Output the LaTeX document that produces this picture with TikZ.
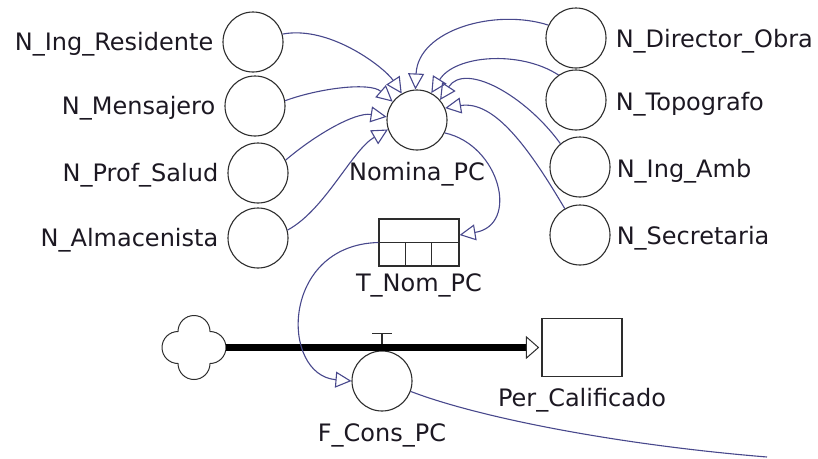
\documentclass[tikz,border=0pt]{standalone}
\usepackage{fontspec}
\setmainfont{DejaVu Sans}
\usetikzlibrary{arrows.meta,calc}
\definecolor{lnk}{RGB}{72,72,140}
\definecolor{ink}{RGB}{45,45,45}
\definecolor{txt}{RGB}{28,24,34}
\begin{document}
\begin{tikzpicture}[x=1pt,y=1pt,
  aux/.style={circle,draw=ink,line width=1.1pt,minimum size=60pt,inner sep=0pt,fill=white},
  lbl/.style={font=\fontsize{24}{28}\selectfont,text=txt,inner sep=0pt},
  link/.style={draw=lnk,line width=1.1pt,-{Triangle[open,length=16pt 0 0,width=16pt 0 0]}},
  plain link/.style={draw=lnk,line width=1.1pt},
  boxstyle/.style={draw=ink,line width=1.1pt,inner sep=0pt,fill=white},
  pipe/.style={draw=black,line width=7pt},
  thin ink/.style={draw=ink,line width=1.1pt}]
\useasboundingbox (0,0) rectangle (818,-458);

% auxiliaries
\node[aux] (ir)  at (253,-42)  {};
\node[aux] (me)  at (255,-106) {};
\node[aux] (ps)  at (258,-173) {};
\node[aux] (al)  at (258,-238) {};
\node[aux] (nom) at (417,-120) {};
\node[aux] (do)  at (576,-38)  {};
\node[aux] (tp)  at (576,-100) {};
\node[aux] (ia)  at (580,-167) {};
\node[aux] (se)  at (580,-235) {};

% table
\node[boxstyle,minimum width=80pt,minimum height=47pt] (tnp) at (419,-242.5) {};
\draw[thin ink] (tnp.west) -- (tnp.east);
\draw[thin ink] ($(tnp.south west)+(26.67,0)$) -- ($(tnp.west)+(26.67,0)$);
\draw[thin ink] ($(tnp.south west)+(53.33,0)$) -- ($(tnp.west)+(53.33,0)$);

% stock, cloud, flow
\node[boxstyle,minimum width=80pt,minimum height=58pt] (pc) at (582,-347.5) {};
\node[circle,minimum size=64pt,inner sep=0pt] (cloud) at (194,-347.5) {};
\draw[thin ink,line width=1pt,fill=white] ($(cloud.center)+(16,16)$)
  arc[start angle=0,end angle=180,radius=16]
  arc[start angle=90,end angle=270,radius=16]
  arc[start angle=180,end angle=360,radius=16]
  arc[start angle=270,end angle=450,radius=16] -- cycle;
\node[aux] (fcp) at (382,-381) {};
\draw[thin ink] ($(fcp.north)+(0,3)$) -- ($(fcp.north)+(0,17)$)
  ($(fcp.north)+(-10,17)$) -- ($(fcp.north)+(10,17)$);
\draw[pipe] (cloud.east) -- ($(pc.west)+(-15,0)$);
\draw[thin ink,line width=1pt,fill=white] ($(pc.west)+(-15,10.5)$) -- ($(pc.west)+(-3,0)$) -- ($(pc.west)+(-15,-10.5)$) -- cycle;

% labels
\node[lbl,anchor=base east] (lir) at ($(ir.west)+(-9,-8.5)$) {N\_Ing\_Residente};
\node[lbl,anchor=base east] (lme) at ($(me.west)+(-9,-8.5)$) {N\_Mensajero};
\node[lbl,anchor=base east] (lps) at ($(ps.west)+(-9,-8.5)$) {N\_Prof\_Salud};
\node[lbl,anchor=base east] (lal) at ($(al.west)+(-9,-8.5)$) {N\_Almacenista};
\node[lbl,anchor=base west] (ldo) at ($(do.east)+(9,-9.5)$) {N\_Director\_Obra};
\node[lbl,anchor=base west] (ltp) at ($(tp.east)+(9,-10.5)$) {N\_Topografo};
\node[lbl,anchor=base west] (lia) at ($(ia.east)+(6,-10.5)$) {N\_Ing\_Amb};
\node[lbl,anchor=base west] (lse) at ($(se.east)+(6,-9)$) {N\_Secretaria};
\node[lbl,anchor=base] (lnom) at ($(nom.south)+(0,-30)$) {Nomina\_PC};
\node[lbl,anchor=base] (ltnp) at ($(tnp.south)+(0,-25)$) {T\_Nom\_PC};
\node[lbl,anchor=base] (lfcp) at ($(fcp.south)+(0,-30)$) {F\_Cons\_PC};
\node[lbl,anchor=base] (lpc) at ($(pc.south)+(0,-29.5)$) {Per\_Calificado};

% connectors into Nomina_PC
\draw[link] (ir.15) .. controls (330,-25) and (385,-68) .. (nom.120);
\draw[link] (me.10) .. controls (320,-88) and (370,-82) .. (nom.143);
\draw[link] (ps.25) .. controls (315,-135) and (355,-112) .. (nom.174);
\draw[link] (al.15) .. controls (325,-210) and (352,-150) .. (nom.198);
\draw[link] (do.155) .. controls (495,-8) and (418,-30) .. (nom.93);
\draw[link] (tp.125) .. controls (520,-50) and (455,-55) .. (nom.62);
\draw[link] (ia.130) .. controls (525,-95) and (465,-62) .. (nom.41);
\draw[link] (se.120) .. controls (530,-150) and (495,-100) .. (nom.23);

% Nomina -> table, table -> flow, flow -> out
\draw[link] (nom.-25) .. controls (500,-145) and (520,-225) .. ($(tnp.east)+(0,7.5)$);
\draw[link] (tnp.west) .. controls (280,-245) and (280,-375) .. (fcp.west);
\coordinate (outend) at (767,-457);
\draw[plain link] (fcp.-20) .. controls (480,-418) and (620,-445) .. (outend);
\end{tikzpicture}
\end{document}
